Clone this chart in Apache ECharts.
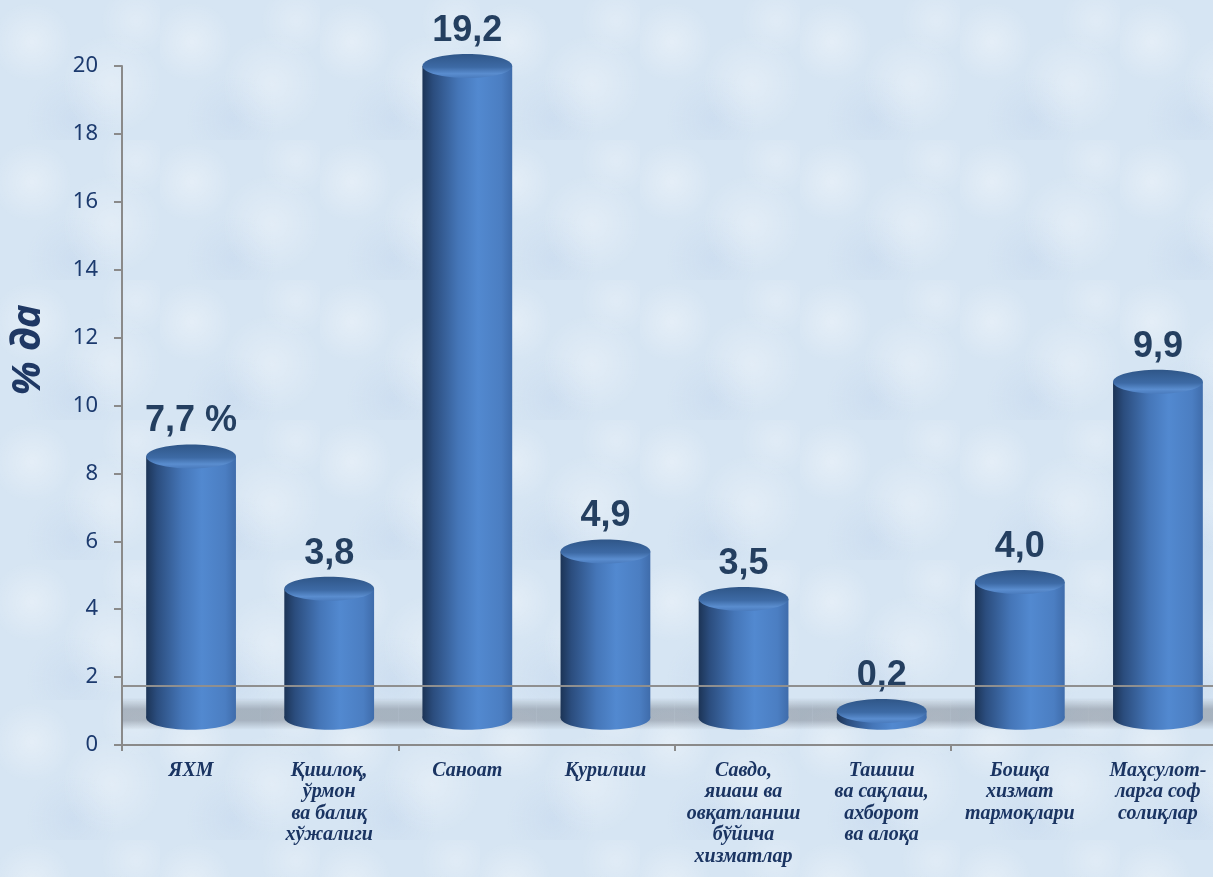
<!DOCTYPE html>
<html>
<head>
<meta charset="utf-8">
<script src="https://cdn.jsdelivr.net/npm/echarts@6/dist/echarts.min.js"></script>
<style>
html,body{margin:0;padding:0;width:1213px;height:877px;overflow:hidden;}
body{
  background-color:#d6e5f3;
  background-image:
    radial-gradient(circle at 20% 30%, rgba(255,255,255,0.35) 0, rgba(255,255,255,0) 40px),
    radial-gradient(circle at 70% 60%, rgba(255,255,255,0.30) 0, rgba(255,255,255,0) 50px),
    radial-gradient(circle at 45% 85%, rgba(190,210,235,0.35) 0, rgba(190,210,235,0) 45px),
    radial-gradient(circle at 85% 15%, rgba(255,255,255,0.25) 0, rgba(255,255,255,0) 35px);
  background-size:160px 140px;
}
#c{width:1213px;height:877px;}
</style>
</head>
<body>
<div id="c"></div>
<script>
// ---- data ----
const categories = [
  'ЯХМ',
  'Қишлоқ,\nўрмон\nва балиқ\nхўжалиги',
  'Саноат',
  'Қурилиш',
  'Савдо,\nяшаш ва\nовқатланиш\nбўйича\nхизматлар',
  'Ташиш\nва сақлаш,\nахборот\nва алоқа',
  'Бошқа\nхизмат\nтармоқлари',
  'Маҳсулот-\nларга соф\nсолиқлар'
];
const values = [7.7, 3.8, 19.2, 4.9, 3.5, 0.2, 4.0, 9.9];
const labelSuffix = [' %', '', '', '', '', '', '', ''];
const yTicks = [0, 2, 4, 6, 8, 10, 12, 14, 16, 18, 20];
const yTitle = '% да';

// ---- chart ----
const chart = echarts.init(document.getElementById('c'), null, {renderer: 'canvas'});

function fmt(v, i) { return v.toFixed(1).replace('.', ',') + labelSuffix[i]; }

const bodyGrad = new echarts.graphic.LinearGradient(0, 0, 1, 0, [
  {offset: 0, color: '#1c3456'},
  {offset: 0.12, color: '#2b4d7e'},
  {offset: 0.40, color: '#4576b8'},
  {offset: 0.62, color: '#5289d0'},
  {offset: 0.88, color: '#4b7ec2'},
  {offset: 1, color: '#3f6cab'}
]);
const topGrad = new echarts.graphic.LinearGradient(0, 0, 0, 1, [
  {offset: 0, color: '#2f5688'},
  {offset: 0.55, color: '#3d6aa5'},
  {offset: 0.82, color: '#5a8dcf'},
  {offset: 1, color: '#4a7bbd'}
]);
const shadowGrad = new echarts.graphic.LinearGradient(0, 0, 0, 1, [
  {offset: 0, color: 'rgba(110,118,130,0)'},
  {offset: 0.35, color: 'rgba(110,118,130,0.45)'},
  {offset: 0.7, color: 'rgba(110,118,130,0.45)'},
  {offset: 1, color: 'rgba(110,118,130,0)'}
]);

function renderItem(params, api) {
  const i = api.value(0), v = api.value(1);
  const base = api.coord([i, 0]);
  const top = api.coord([i, v]);
  const band = api.size([1, 0])[0];
  const w = band * 0.65;
  const rx = w / 2, ry = 12;
  const cx = base[0];
  return {
    type: 'group',
    children: [
      {type: 'rect', shape: {x: cx - band / 2, y: base[1] - 20, width: band, height: 32},
       style: {fill: shadowGrad}},
      {type: 'ellipse', shape: {cx: cx, cy: base[1], rx: rx, ry: ry},
       style: {fill: bodyGrad}},
      {type: 'rect', shape: {x: cx - rx, y: top[1], width: w, height: base[1] - top[1]},
       style: {fill: bodyGrad}},
      {type: 'ellipse', shape: {cx: cx, cy: top[1], rx: rx, ry: ry},
       style: {fill: topGrad}},
      {type: 'text', style: {
        text: fmt(v, i), x: cx, y: top[1] - ry - 5,
        align: 'center', verticalAlign: 'bottom',
        font: 'bold 36px "Liberation Sans", Arial, sans-serif',
        fill: '#243f60'
      }}
    ]
  };
}

const option = {
  backgroundColor: 'transparent',
  animation: false,
  grid: {left: 122, right: -14, top: 66, bottom: 132, outerBoundsMode: 'none', containLabel: false},
  xAxis: {
    type: 'category',
    data: categories,
    boundaryGap: true,
    axisLine: {show: true, lineStyle: {color: '#8a8a8a', width: 2}},
    axisTick: {show: true, interval: function (idx) { return idx % 2 === 0 && idx < 7; },
               length: 6, lineStyle: {color: '#8a8a8a', width: 2}},
    axisLabel: {
      interval: 0, margin: 15,
      fontFamily: '"Liberation Serif", "Times New Roman", serif',
      fontStyle: 'italic', fontWeight: 'bold', fontSize: 20, lineHeight: 21.5,
      color: '#1a3462'
    },
    splitLine: {show: false}
  },
  yAxis: [
    {
      type: 'value', min: 0, max: 20, interval: 2,
      axisLine: {show: true, lineStyle: {color: '#8a8a8a', width: 2}},
      axisTick: {show: true, length: 8, lineStyle: {color: '#8a8a8a', width: 2}},
      axisLabel: {
        margin: 24, fontFamily: '"Noto Sans", sans-serif', fontSize: 22, color: '#1c3a6e',
        formatter: function (val) { return yTicks.indexOf(val) >= 0 ? String(val) : ''; }
      },
      splitLine: {show: false}
    },
    {
      type: 'value', min: -0.8, max: 19.2, show: false,
      splitLine: {show: false}
    }
  ],
  graphic: [
    {type: 'text', x: 29, y: 350, rotation: Math.PI / 2,
     style: {text: yTitle, align: 'center', verticalAlign: 'middle',
             font: 'italic bold 40px "Noto Sans", sans-serif', fill: '#1f3864'}}
  ],
  series: [
    {
      type: 'line', data: [], yAxisIndex: 0, silent: true,
      markLine: {
        silent: true, symbol: 'none', label: {show: false},
        lineStyle: {color: '#8f8f8f', width: 2, type: 'solid'},
        data: [{yAxis: 1.75}]
      }
    },
    {
      type: 'custom',
      yAxisIndex: 1,
      renderItem: renderItem,
      data: values.map((v, i) => [i, v]),
      clip: false
    }
  ]
};
chart.setOption(option);
</script>
</body>
</html>
